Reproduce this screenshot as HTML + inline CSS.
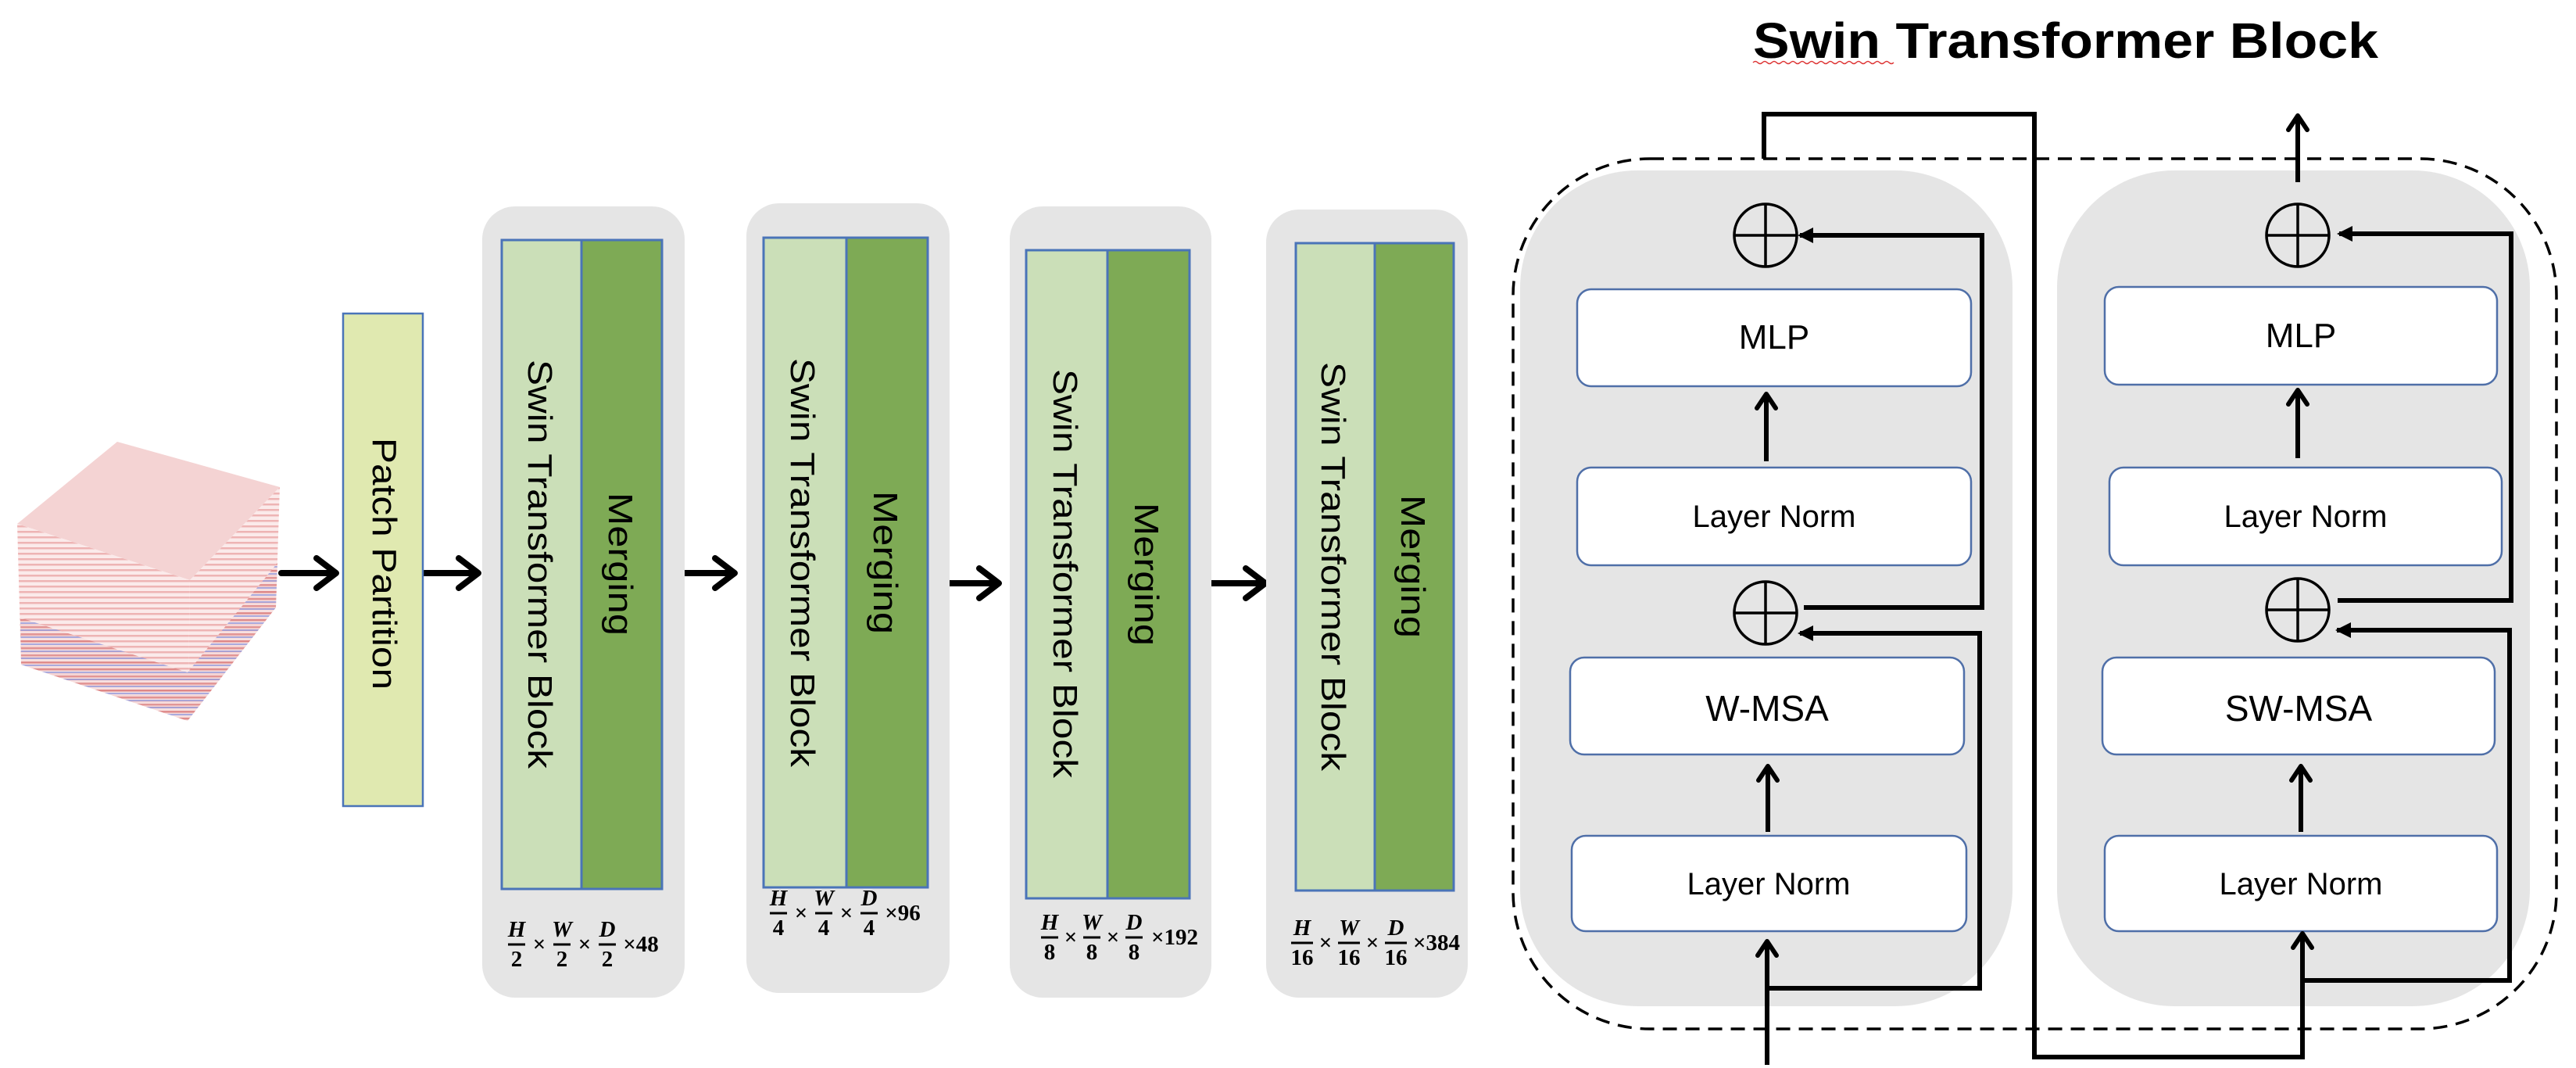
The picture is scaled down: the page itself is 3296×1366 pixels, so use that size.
<!DOCTYPE html>
<html><head><meta charset="utf-8"><style>
html,body{margin:0;padding:0;background:#fff;}
svg{display:block;}
.t{font-family:"Liberation Sans",sans-serif;fill:#000;}
.f{font-family:"Liberation Serif",serif;font-weight:bold;fill:#000;font-size:29px;}
.fi{font-style:italic;}
</style></head><body>
<svg width="3296" height="1366" viewBox="0 0 3296 1366" xmlns="http://www.w3.org/2000/svg">
<defs>
<pattern id="str" width="40" height="7" patternUnits="userSpaceOnUse">
<rect width="40" height="7" fill="#fbeaea"/>
<rect y="0" width="40" height="2.5" fill="#eeb4b4"/>
</pattern>
<pattern id="str2" width="40" height="9" patternUnits="userSpaceOnUse">
<rect width="40" height="9" fill="#f6dcdc"/>
<rect y="0" width="40" height="2.5" fill="#d97a7a"/>
<rect y="4" width="40" height="2" fill="#8f95d8"/>
</pattern>
</defs>

<!-- cube -->
<polygon points="22,670 150,565 358,623 243,742" fill="#f4d3d3"/>
<polygon points="22,670 243,742 240,922 27,850" fill="url(#str)"/>
<polygon points="26,790 240,860 240,922 27,850" fill="url(#str2)" opacity="0.75"/>
<polygon points="243,742 358,623 353,777 240,922" fill="url(#str)"/>
<polygon points="240,860 355,720 353,777 240,922" fill="url(#str2)" opacity="0.75"/>

<!-- big left arrows -->
<g stroke="#000" stroke-width="8" fill="none" stroke-linecap="round" stroke-linejoin="round">
<line x1="360" y1="733" x2="428" y2="733"/><polyline points="405,714 430,733 405,752"/>
<line x1="543" y1="733" x2="610" y2="733"/><polyline points="587,714 612,733 587,752"/>
<line x1="875" y1="733" x2="938" y2="733"/><polyline points="915,714 940,733 915,752"/>
<line x1="1210" y1="746" x2="1276" y2="746"/><polyline points="1253,727 1278,746 1253,765"/>
<line x1="1550" y1="746" x2="1617" y2="746"/><polyline points="1594,727 1619,746 1594,765"/>
</g>

<!-- patch partition -->
<rect x="439" y="401" width="102" height="630" fill="#e0e9b0" stroke="#4a74b8" stroke-width="2.5"/>
<text class="t" font-size="44" transform="translate(477,560) rotate(90)" textLength="322" lengthAdjust="spacingAndGlyphs">Patch Partition</text>

<!-- group 1 -->
<rect x="617" y="264" width="259" height="1012" rx="42" fill="#e5e5e5"/>
<rect x="642" y="307" width="102" height="830" fill="#cbdfb8" stroke="#4a74b8" stroke-width="3"/>
<rect x="744" y="307" width="103" height="830" fill="#7eaa55" stroke="#4a74b8" stroke-width="3"/>
<text class="t" font-size="44" transform="translate(676,460) rotate(90)" textLength="523" lengthAdjust="spacingAndGlyphs">Swin Transformer Block</text>
<text class="t" font-size="44" transform="translate(779,630) rotate(90)" textLength="183" lengthAdjust="spacingAndGlyphs">Merging</text>

<!-- group 2 -->
<rect x="955" y="260" width="260" height="1010" rx="42" fill="#e5e5e5"/>
<rect x="977" y="304" width="106" height="831" fill="#cbdfb8" stroke="#4a74b8" stroke-width="3"/>
<rect x="1083" y="304" width="104" height="831" fill="#7eaa55" stroke="#4a74b8" stroke-width="3"/>
<text class="t" font-size="44" transform="translate(1012,458) rotate(90)" textLength="523" lengthAdjust="spacingAndGlyphs">Swin Transformer Block</text>
<text class="t" font-size="44" transform="translate(1118,628) rotate(90)" textLength="183" lengthAdjust="spacingAndGlyphs">Merging</text>

<!-- group 3 -->
<rect x="1292" y="264" width="258" height="1012" rx="42" fill="#e5e5e5"/>
<rect x="1313" y="320" width="104" height="829" fill="#cbdfb8" stroke="#4a74b8" stroke-width="3"/>
<rect x="1417" y="320" width="105" height="829" fill="#7eaa55" stroke="#4a74b8" stroke-width="3"/>
<text class="t" font-size="44" transform="translate(1348,472) rotate(90)" textLength="523" lengthAdjust="spacingAndGlyphs">Swin Transformer Block</text>
<text class="t" font-size="44" transform="translate(1452,643) rotate(90)" textLength="183" lengthAdjust="spacingAndGlyphs">Merging</text>

<!-- group 4 -->
<rect x="1620" y="268" width="258" height="1008" rx="42" fill="#e5e5e5"/>
<rect x="1658" y="311" width="101" height="828" fill="#cbdfb8" stroke="#4a74b8" stroke-width="3"/>
<rect x="1759" y="311" width="101" height="828" fill="#7eaa55" stroke="#4a74b8" stroke-width="3"/>
<text class="t" font-size="44" transform="translate(1691,463) rotate(90)" textLength="523" lengthAdjust="spacingAndGlyphs">Swin Transformer Block</text>
<text class="t" font-size="44" transform="translate(1793,633) rotate(90)" textLength="183" lengthAdjust="spacingAndGlyphs">Merging</text>

<!-- dimension labels -->
<g stroke="#000" stroke-width="3">
<line x1="650" y1="1208" x2="672" y2="1208"/><line x1="708" y1="1208" x2="730" y2="1208"/><line x1="766" y1="1208" x2="788" y2="1208"/>
<line x1="985" y1="1168" x2="1007" y2="1168"/><line x1="1043" y1="1168" x2="1065" y2="1168"/><line x1="1101" y1="1168" x2="1123" y2="1168"/>
<line x1="1332" y1="1199" x2="1354" y2="1199"/><line x1="1386" y1="1199" x2="1408" y2="1199"/><line x1="1440" y1="1199" x2="1462" y2="1199"/>
<line x1="1652" y1="1206" x2="1680" y2="1206"/><line x1="1712" y1="1206" x2="1740" y2="1206"/><line x1="1772" y1="1206" x2="1800" y2="1206"/>
</g>
<g class="f" text-anchor="middle">
<text class="fi" x="661" y="1198">H</text><text class="fi" x="719" y="1198">W</text><text class="fi" x="777" y="1198">D</text>
<text x="661" y="1236">2</text><text x="719" y="1236">2</text><text x="777" y="1236">2</text>
<text x="690" y="1217">×</text><text x="748" y="1217">×</text><text x="820" y="1217">×48</text>

<text class="fi" x="996" y="1158">H</text><text class="fi" x="1054" y="1158">W</text><text class="fi" x="1112" y="1158">D</text>
<text x="996" y="1196">4</text><text x="1054" y="1196">4</text><text x="1112" y="1196">4</text>
<text x="1025" y="1177">×</text><text x="1083" y="1177">×</text><text x="1155" y="1177">×96</text>

<text class="fi" x="1343" y="1189">H</text><text class="fi" x="1397" y="1189">W</text><text class="fi" x="1451" y="1189">D</text>
<text x="1343" y="1227">8</text><text x="1397" y="1227">8</text><text x="1451" y="1227">8</text>
<text x="1370" y="1208">×</text><text x="1424" y="1208">×</text><text x="1503" y="1208">×192</text>

<text class="fi" x="1666" y="1196">H</text><text class="fi" x="1726" y="1196">W</text><text class="fi" x="1786" y="1196">D</text>
<text x="1666" y="1234">16</text><text x="1726" y="1234">16</text><text x="1786" y="1234">16</text>
<text x="1696" y="1215">×</text><text x="1756" y="1215">×</text><text x="1838" y="1215">×384</text>
</g>

<!-- title -->
<text class="t" font-size="64" font-weight="bold" x="2243" y="74" textLength="800" lengthAdjust="spacingAndGlyphs">Swin Transformer Block</text>
<path d="M2243,80 q3,-3 6,0 t6,0 t6,0 t6,0 t6,0 t6,0 t6,0 t6,0 t6,0 t6,0 t6,0 t6,0 t6,0 t6,0 t6,0 t6,0 t6,0 t6,0 t6,0 t6,0 t6,0 t6,0 t6,0 t6,0 t6,0 t6,0 t6,0 t6,0 t6,0 t6,0" stroke="#d33" stroke-width="1.5" fill="none"/>

<!-- right panels -->
<rect x="1945" y="218" width="630" height="1069" rx="150" fill="#e5e5e5"/>
<rect x="2632" y="218" width="605" height="1069" rx="150" fill="#e5e5e5"/>
<rect x="1936" y="203" width="1335" height="1113" rx="175" fill="none" stroke="#000" stroke-width="3.5" stroke-dasharray="18,11"/>

<g fill="#fff" stroke="#4f6fa8" stroke-width="2.5">
<rect x="2018" y="370" width="504" height="124" rx="18"/>
<rect x="2018" y="598" width="504" height="125" rx="18"/>
<rect x="2009" y="841" width="504" height="124" rx="18"/>
<rect x="2011" y="1069" width="505" height="122" rx="18"/>
<rect x="2693" y="367" width="502" height="125" rx="18"/>
<rect x="2699" y="598" width="502" height="125" rx="18"/>
<rect x="2690" y="841" width="502" height="124" rx="18"/>
<rect x="2693" y="1069" width="502" height="122" rx="18"/>
</g>
<g class="t" text-anchor="middle">
<text x="2270" y="446" font-size="44">MLP</text>
<text x="2270" y="674" font-size="40">Layer Norm</text>
<text x="2261" y="922" font-size="46">W-MSA</text>
<text x="2263" y="1144" font-size="40">Layer Norm</text>
<text x="2944" y="444" font-size="44">MLP</text>
<text x="2950" y="674" font-size="40">Layer Norm</text>
<text x="2941" y="922" font-size="46">SW-MSA</text>
<text x="2944" y="1144" font-size="40">Layer Norm</text>
</g>

<g stroke="#000" stroke-width="3.5" fill="none">
<circle cx="2259" cy="301" r="40"/><line x1="2219" y1="301" x2="2299" y2="301"/><line x1="2259" y1="261" x2="2259" y2="341"/>
<circle cx="2259" cy="784" r="40"/><line x1="2219" y1="784" x2="2299" y2="784"/><line x1="2259" y1="744" x2="2259" y2="824"/>
<circle cx="2940" cy="301" r="40"/><line x1="2900" y1="301" x2="2980" y2="301"/><line x1="2940" y1="261" x2="2940" y2="341"/>
<circle cx="2940" cy="780" r="40"/><line x1="2900" y1="780" x2="2980" y2="780"/><line x1="2940" y1="740" x2="2940" y2="820"/>
</g>

<g stroke="#000" stroke-width="6" fill="none" stroke-linejoin="miter">
<line x1="2261" y1="1362" x2="2261" y2="1206"/>
<line x1="2262" y1="1064" x2="2262" y2="982"/>
<line x1="2260" y1="590" x2="2260" y2="506"/>
<polyline points="2261,1264 2533,1264 2533,810 2303,810"/>
<polyline points="2308,777 2536,777 2536,301 2303,301"/>
<polyline points="2257,203 2257,146 2603,146 2603,1352 2946,1352 2946,1196"/>
<line x1="2940" y1="233" x2="2940" y2="150"/>
<line x1="2940" y1="586" x2="2940" y2="501"/>
<line x1="2944" y1="1064" x2="2944" y2="982"/>
<polyline points="2946,1254 3211,1254 3211,806 2990,806"/>
<polyline points="2991,768 3213,768 3213,299 2993,299"/>
</g>
<g stroke="#000" stroke-width="6" fill="none" stroke-linecap="round" stroke-linejoin="round">
<polyline points="2249,1222 2261,1204 2273,1222"/>
<polyline points="2250,998 2262,980 2274,998"/>
<polyline points="2248,522 2260,504 2272,522"/>
<polyline points="2934,1212 2946,1194 2958,1212"/>
<polyline points="2928,166 2940,148 2952,166"/>
<polyline points="2928,517 2940,499 2952,517"/>
<polyline points="2932,998 2944,980 2956,998"/>
</g>
<g fill="#000">
<polygon points="2300,810 2320,800 2320,820"/>
<polygon points="2300,301 2320,291 2320,311"/>
<polygon points="2988,806 3008,796 3008,816"/>
<polygon points="2990,299 3010,289 3010,309"/>
</g>
</svg>
</body></html>
